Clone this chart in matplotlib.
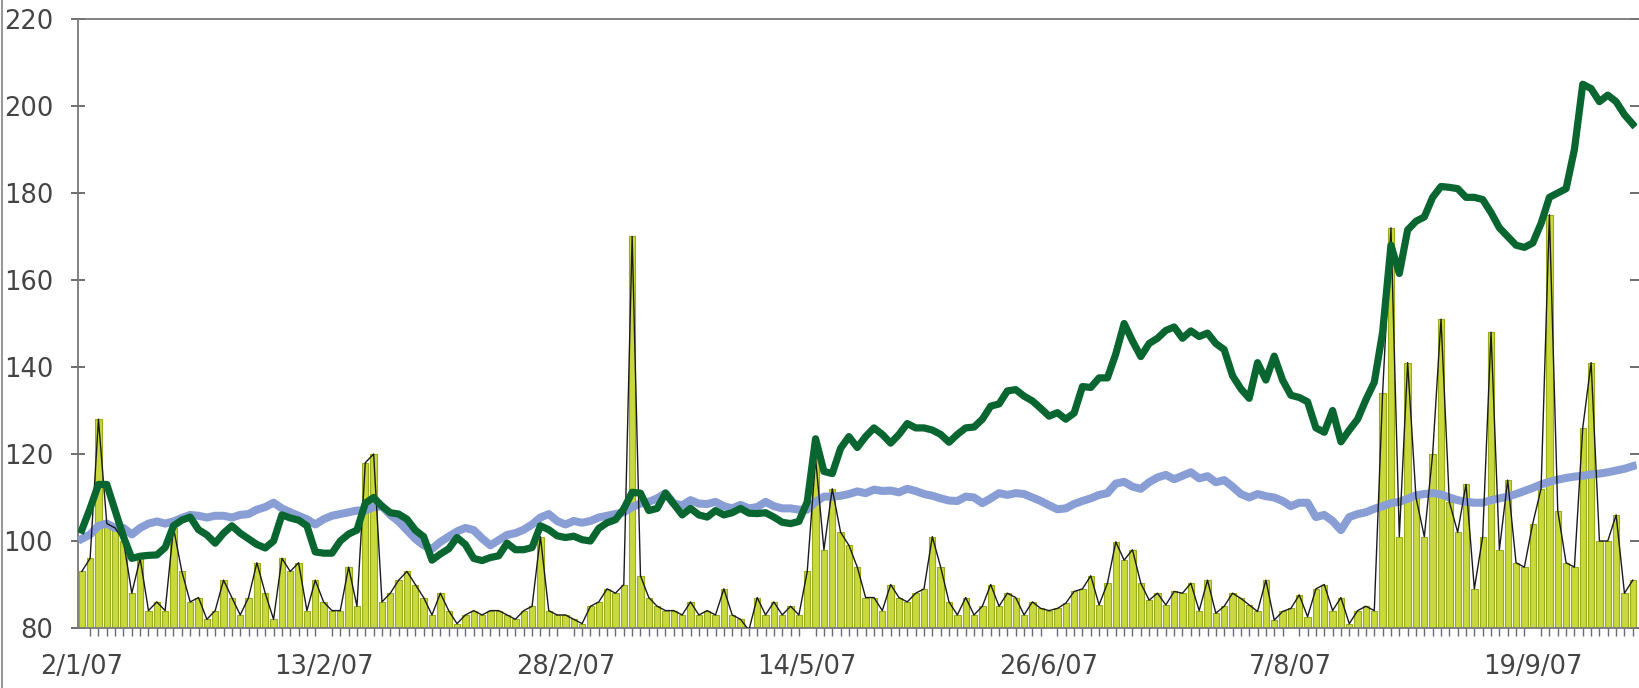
import numpy as np
import matplotlib.pyplot as plt
from matplotlib.lines import Line2D

# category labels on the x axis (every 29th point is labelled)
date_labels = ["2/1/07", "13/2/07", "28/2/07", "14/5/07", "26/6/07", "7/8/07", "19/9/07"]
label_idx = [0, 29, 58, 87, 116, 145, 174]

# bar series (volume-like index, drawn as bars + thin black line)
bars = [
    93, 96, 128, 104, 103, 100, 88, 96, 84, 86,
    84, 103, 93, 86, 87, 82, 84, 91, 87, 83,
    87, 95, 88, 82, 96, 93, 95, 84, 91, 86,
    84, 84, 94, 85, 118, 120, 86,
    88, 91, 93, 90, 87, 83, 88, 84, 81, 83,
    84, 83, 84, 84, 83, 82, 84, 85, 101, 84,
    83, 83, 82, 81, 85, 86, 89, 88, 90, 170,
    92, 87, 85, 84, 84, 83, 86, 83,
    84, 83, 89, 83, 82, 79.5, 87, 83, 86, 83,
    85, 83, 93, 119, 98, 112, 102, 99, 94, 87,
    87, 84, 90, 87, 86, 88, 89, 101, 94, 86,
    83, 87, 83, 85, 90, 85, 88,
    87, 83, 86, 84.5, 84, 84.5, 85.7, 88.4, 89, 92,
    85.3, 90.3, 99.8, 95.6, 98, 90.3, 86.4, 88, 85.3, 88.4,
    88, 90.3, 84, 91, 83.4, 85, 88, 86.8, 85.3, 83.8,
    91, 81.8, 83.8, 84.5, 87.6, 82.6,
    89, 90, 84, 87, 81, 84, 85, 84, 134, 172,
    101, 141, 110, 101, 120, 151, 109, 102, 113, 89,
    101, 148, 98, 114, 95, 94, 104, 112, 175, 107,
    95, 94, 126, 141, 100, 100, 106, 88, 91,
]

# dark green line
green = [
    102.5, 107.5, 113, 113, 107, 101, 96, 96.5, 96.7, 96.8,
    98.5, 103.5, 104.8, 105.5, 102.6, 101.4, 99.5, 101.8, 103.5, 101.8,
    100.5, 99.2, 98.4, 100, 106, 105.3, 104.8, 103.5, 97.5, 97.2,
    97.2, 100, 101.6, 102.5, 108.7, 110, 108, 106.5,
    106.2, 105, 102.5, 101, 95.6, 97, 98.2, 100.8, 99.2, 96,
    95.5, 96.2, 96.6, 99.5, 98, 98, 98.5, 103.5, 102.6, 101.2,
    100.8, 101.1, 100.3, 100, 102.9, 104.2, 104.9, 107.4, 111.2, 111,
    107, 107.5, 111, 108.5, 106, 107.5, 106,
    105.5, 107, 106, 106.5, 107.5, 106.4, 106.3, 106.5, 105.5, 104.3,
    104, 104.5, 109, 123.5, 116, 115.5, 121.3, 124, 121.5, 124,
    126, 124.5, 122.5, 124.5, 127, 126, 126, 125.5, 124.5, 122.7,
    124.5, 126, 126.2, 128, 131, 131.5, 134.5, 134.8,
    133.3, 132.2, 130.5, 128.7, 129.5, 128, 129.4, 135.5, 135.3, 137.5,
    137.5, 143, 150, 146, 142.4, 145.4, 146.6, 148.4, 149.2, 146.6,
    148.3, 147, 147.8, 145.4, 144, 138, 135, 132.8, 141, 137,
    142.5, 137, 133.5, 133, 132, 126, 125, 130,
    122.8, 125.5, 128, 132.5, 136.5, 148, 168, 161.5, 171.5, 173.5,
    174.5, 179, 181.5, 181.3, 181, 179, 179, 178.5, 175.5, 172,
    170, 168, 167.5, 168.5, 173, 179, 180, 181, 190, 205,
    204, 201, 202.5, 201, 198, 195.8,
]

# light blue line
blue = [
    100.5, 101.5, 103.5, 104, 103, 103, 101.5, 103, 104, 104.5,
    104, 104.5, 105.3, 106, 105.8, 105.4, 105.8, 105.8, 105.4, 106,
    106.2, 107.2, 107.8, 108.8, 107.5, 106.6, 105.8, 105, 103.8, 105,
    105.8, 106.2, 106.6, 107, 107, 107.8, 108, 106,
    104.5, 102.5, 100.5, 99, 98.2, 99.8, 101, 102.2, 103, 102.5,
    100.6, 99, 100.2, 101.4, 101.8, 102.6, 103.8, 105.4, 106.2, 104.6,
    103.8, 104.6, 104.2, 104.6, 105.4, 105.8, 106.2, 106.6, 107.8, 108.6,
    109, 109.8, 111, 108.6, 108.2, 109.4, 108.6,
    108.5, 109, 108, 107.5, 108.3, 107.5, 107.8, 109, 108, 107.5,
    107.5, 107.2, 107.2, 109, 110.2, 110.2, 110.4, 110.8, 111.4, 111,
    111.8, 111.5, 111.6, 111.2, 112, 111.5, 110.8, 110.4, 109.8, 109.3,
    109.2, 110.2, 110, 108.7, 109.8, 111, 110.6, 111,
    110.8, 110, 109.2, 108.2, 107.3, 107.5, 108.5, 109.2, 109.8, 110.6,
    111, 113.2, 113.6, 112.5, 112, 113.5, 114.6, 115.2, 114.2,
    115, 115.8, 114.4, 114.9, 113.5, 114, 112.5, 110.8, 110, 110.8,
    110.3, 110, 109.2, 108, 108.8, 108.8,
    105.5, 106, 104.6, 102.5, 105.5, 106.2, 106.6, 107.4, 108, 108.7,
    109, 109.7, 110.5, 110.8, 111, 110.7, 110, 109.4, 109, 108.8,
    108.8, 109.4, 109.8, 110.2, 110.8, 111.5, 112.2, 113, 113.6, 114.1,
    114.5, 114.8, 115, 115.3, 115.5, 115.8, 116.2, 116.6, 117.2,
]

x = np.arange(len(bars))

fig = plt.figure(figsize=(16.39, 6.88), dpi=100)
ax = fig.add_axes([0.0476, 0.0872, 0.9509, 0.8852])

ax.bar(x, bars, width=0.76, color="#c9d83c", edgecolor="#98ad1c", linewidth=0.8, zorder=2)
ax.plot(x, blue, color="#8a9ed6", lw=5.8, solid_joinstyle="round", zorder=3)
ax.plot(x, bars, color="#1a1a1a", lw=1.0, zorder=4)
ax.plot(x, green, color="#0a6630", lw=5.2, solid_joinstyle="round", zorder=5)

ax.set_xlim(-0.45, len(bars) - 0.55)
ax.set_ylim(80, 220)

# y axis
ax.set_yticks(range(80, 221, 20))
ax.tick_params(axis="y", which="major", direction="inout", length=10, width=1.2,
               color="#555555", labelsize=18.5, labelcolor="#444444", pad=13,
               left=True, right=True, labelright=False)

# x axis: labels only at chosen points, small ticks at every point
ax.set_xticks(label_idx)
ax.set_xticklabels(date_labels)
ax.set_xticks(x, minor=True)
ax.tick_params(axis="x", which="major", length=0, labelsize=18.5, labelcolor="#444444", pad=19)
ax.tick_params(axis="x", which="minor", direction="out", length=6, width=1, color="#6a6a7a")

for side in ["left", "top", "bottom"]:
    ax.spines[side].set_color("#777777")
    ax.spines[side].set_linewidth(1.3)
ax.spines["right"].set_visible(False)

# thin border on the left edge of the picture
fig.add_artist(Line2D([0.0012, 0.0012], [0, 1], transform=fig.transFigure, color="#999999", lw=1.5))

fig.savefig("out.png", dpi=100)
